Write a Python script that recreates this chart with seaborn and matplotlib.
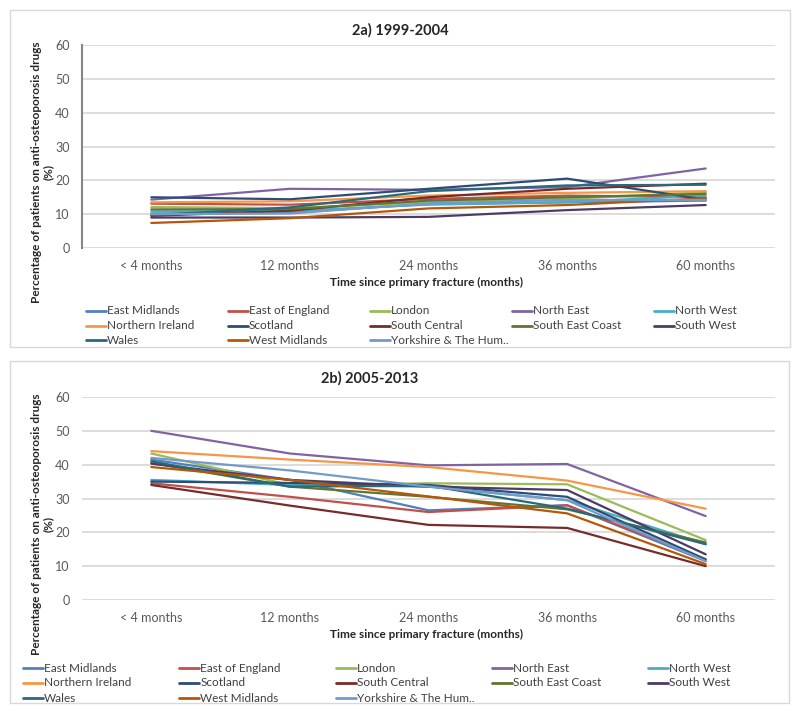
import numpy as np
import pandas as pd
import seaborn as sns
import matplotlib
matplotlib.use("Agg")
import matplotlib.pyplot as plt
from matplotlib.lines import Line2D
from matplotlib.patches import Rectangle

# ---------------- data ----------------
months = ["< 4 months", "12 months", "24 months", "36 months", "60 months"]
regions = ["East Midlands", "East of England", "London", "North East", "North West",
           "Northern Ireland", "Scotland", "South Central", "South East Coast", "South West",
           "Wales", "West Midlands", "Yorkshire & The Hum.."]
colors = ["#4F81BD", "#C0504D", "#9BBB59", "#8064A2", "#4BACC6",
          "#F79646", "#2C4D75", "#772C2A", "#5F7530", "#4D3B62",
          "#276A7C", "#B65708", "#729ACA"]

# 2a) 1999-2004
a_east_midlands = [10.2, 10.5, 13.0, 13.5, 14.0]
a_east_of_england = [13.1, 12.8, 14.5, 15.5, 15.0]
a_london = [12.1, 11.8, 13.5, 14.5, 16.5]
a_north_east = [14.3, 17.5, 17.2, 18.0, 23.5]
a_north_west = [10.8, 11.0, 12.8, 13.5, 15.5]
a_northern_ireland = [13.5, 13.8, 15.5, 16.3, 16.8]
a_scotland = [15.0, 14.4, 17.5, 20.5, 14.3]
a_south_central = [9.5, 11.0, 15.0, 17.5, 19.0]
a_south_east_coast = [11.4, 11.5, 14.0, 15.0, 16.0]
a_south_west = [9.0, 9.0, 9.2, 11.2, 12.7]
a_wales = [9.7, 12.0, 16.8, 18.5, 18.7]
a_west_midlands = [7.4, 8.8, 11.7, 12.7, 14.7]
a_yorkshire = [10.0, 10.2, 13.2, 14.2, 14.2]

# 2b) 2005-2013
b_east_midlands = [41.5, 35.5, 26.5, 28.0, 11.5]
b_east_of_england = [34.5, 30.5, 26.0, 28.0, 12.0]
b_london = [43.3, 34.0, 34.5, 34.2, 17.7]
b_north_east = [50.0, 43.3, 39.8, 40.2, 24.8]
b_north_west = [35.5, 34.0, 33.5, 29.5, 16.5]
b_northern_ireland = [44.0, 41.5, 39.3, 35.3, 27.0]
b_scotland = [35.0, 34.6, 34.0, 30.5, 12.0]
b_south_central = [34.0, 27.9, 22.2, 21.3, 10.0]
b_south_east_coast = [40.5, 33.5, 30.5, 26.8, 17.0]
b_south_west = [40.3, 35.5, 33.5, 32.5, 13.5]
b_wales = [41.0, 33.5, 33.8, 27.0, 16.5]
b_west_midlands = [39.3, 35.5, 30.6, 25.6, 10.6]
b_yorkshire = [42.0, 38.3, 33.5, 29.5, 11.5]

series_a = [a_east_midlands, a_east_of_england, a_london, a_north_east, a_north_west,
            a_northern_ireland, a_scotland, a_south_central, a_south_east_coast, a_south_west,
            a_wales, a_west_midlands, a_yorkshire]
series_b = [b_east_midlands, b_east_of_england, b_london, b_north_east, b_north_west,
            b_northern_ireland, b_scotland, b_south_central, b_south_east_coast, b_south_west,
            b_wales, b_west_midlands, b_yorkshire]


def long_df(series):
    rows = []
    for r, vals in zip(regions, series):
        for i, (m, v) in enumerate(zip(months, vals)):
            rows.append({"region": r, "pos": i, "month": m, "value": v})
    return pd.DataFrame(rows)


# ---------------- style ----------------
sns.set_style("white")
plt.rcParams["font.family"] = ["Lato", "DejaVu Sans"]

W, H = 800, 714
fig = plt.figure(figsize=(W / 100, H / 100), dpi=100)


def fx(x):
    return x / W


def fy(y):
    return 1 - y / H


palette = dict(zip(regions, colors))
TXT = "#404040"
TICK = "#595959"
GRID = "#D9D9D9"


def panel(series, title, box, ax_top, ax_bot, title_xy, leg_x0, leg_dx, leg_rows, y_axis_line):
    bx0, by0, bx1, by1 = box
    fig.add_artist(Rectangle((fx(bx0), fy(by1)), fx(bx1) - fx(bx0), fy(by0) - fy(by1),
                             transform=fig.transFigure, fill=False, edgecolor=GRID, lw=1.0))
    ax = fig.add_axes([fx(82), fy(ax_bot), 693 / W, (ax_bot - ax_top) / H])
    df = long_df(series)
    sns.lineplot(data=df, x="pos", y="value", hue="region", hue_order=regions,
                 palette=palette, ax=ax, linewidth=1.6, legend=False,
                 estimator=None, sort=False)
    ax.set_xlim(-0.5, 4.5)
    ax.set_ylim(0, 60)
    ax.set_yticks(range(0, 61, 10))
    ax.set_xticks(range(len(months)))
    ax.set_xticklabels(months)
    ax.set_xlabel("")
    ax.set_ylabel("")
    ax.yaxis.grid(True, color=GRID, lw=1.3)
    ax.xaxis.grid(False)
    ax.set_axisbelow(True)
    for s in ax.spines.values():
        s.set_visible(False)
    if y_axis_line:
        ax.spines["left"].set_visible(True)
        ax.spines["left"].set_color("#868686")
        ax.spines["left"].set_linewidth(1.5)
    ax.tick_params(axis="both", length=0, labelsize=9, colors=TICK)
    ax.tick_params(axis="y", pad=9)
    ax.tick_params(axis="x", pad=9)

    fig.text(fx(title_xy[0]), fy(title_xy[1]), title, ha="center", va="center",
             fontsize=10.5, fontweight="bold", color="#262626")
    fig.text(fx(427), fy(ax_bot + 34), "Time since primary fracture (months)",
             ha="center", va="center", fontsize=8.5, fontweight="bold", color="#262626")
    fig.text(fx(42), fy(ax_bot - 76),
             "Percentage of patients on anti-osteoporosis drugs\n(%)",
             ha="center", va="center", rotation=90, fontsize=8.5, fontweight="bold",
             color="#262626", multialignment="center", linespacing=1.1)

    for i, (r, c) in enumerate(zip(regions, colors)):
        row, col = divmod(i, 5)
        x0 = leg_x0 + col * leg_dx
        y = leg_rows[row]
        fig.add_artist(Line2D([fx(x0), fx(x0 + 20)], [fy(y), fy(y)], color=c, lw=2.0,
                              transform=fig.transFigure))
        fig.text(fx(x0 + 21), fy(y), r, ha="left", va="center", fontsize=8.5, color=TXT)
    return ax


panel(series_a, "2a) 1999-2004", (10, 10, 790, 347), 45, 248, (400, 30),
      86, 142, [311, 326, 340], True)
panel(series_b, "2b) 2005-2013", (10, 361, 789, 703), 397, 600, (370, 378),
      23, 156.3, [668, 683, 698], False)

fig.savefig("out.png", dpi=100, facecolor="white")
